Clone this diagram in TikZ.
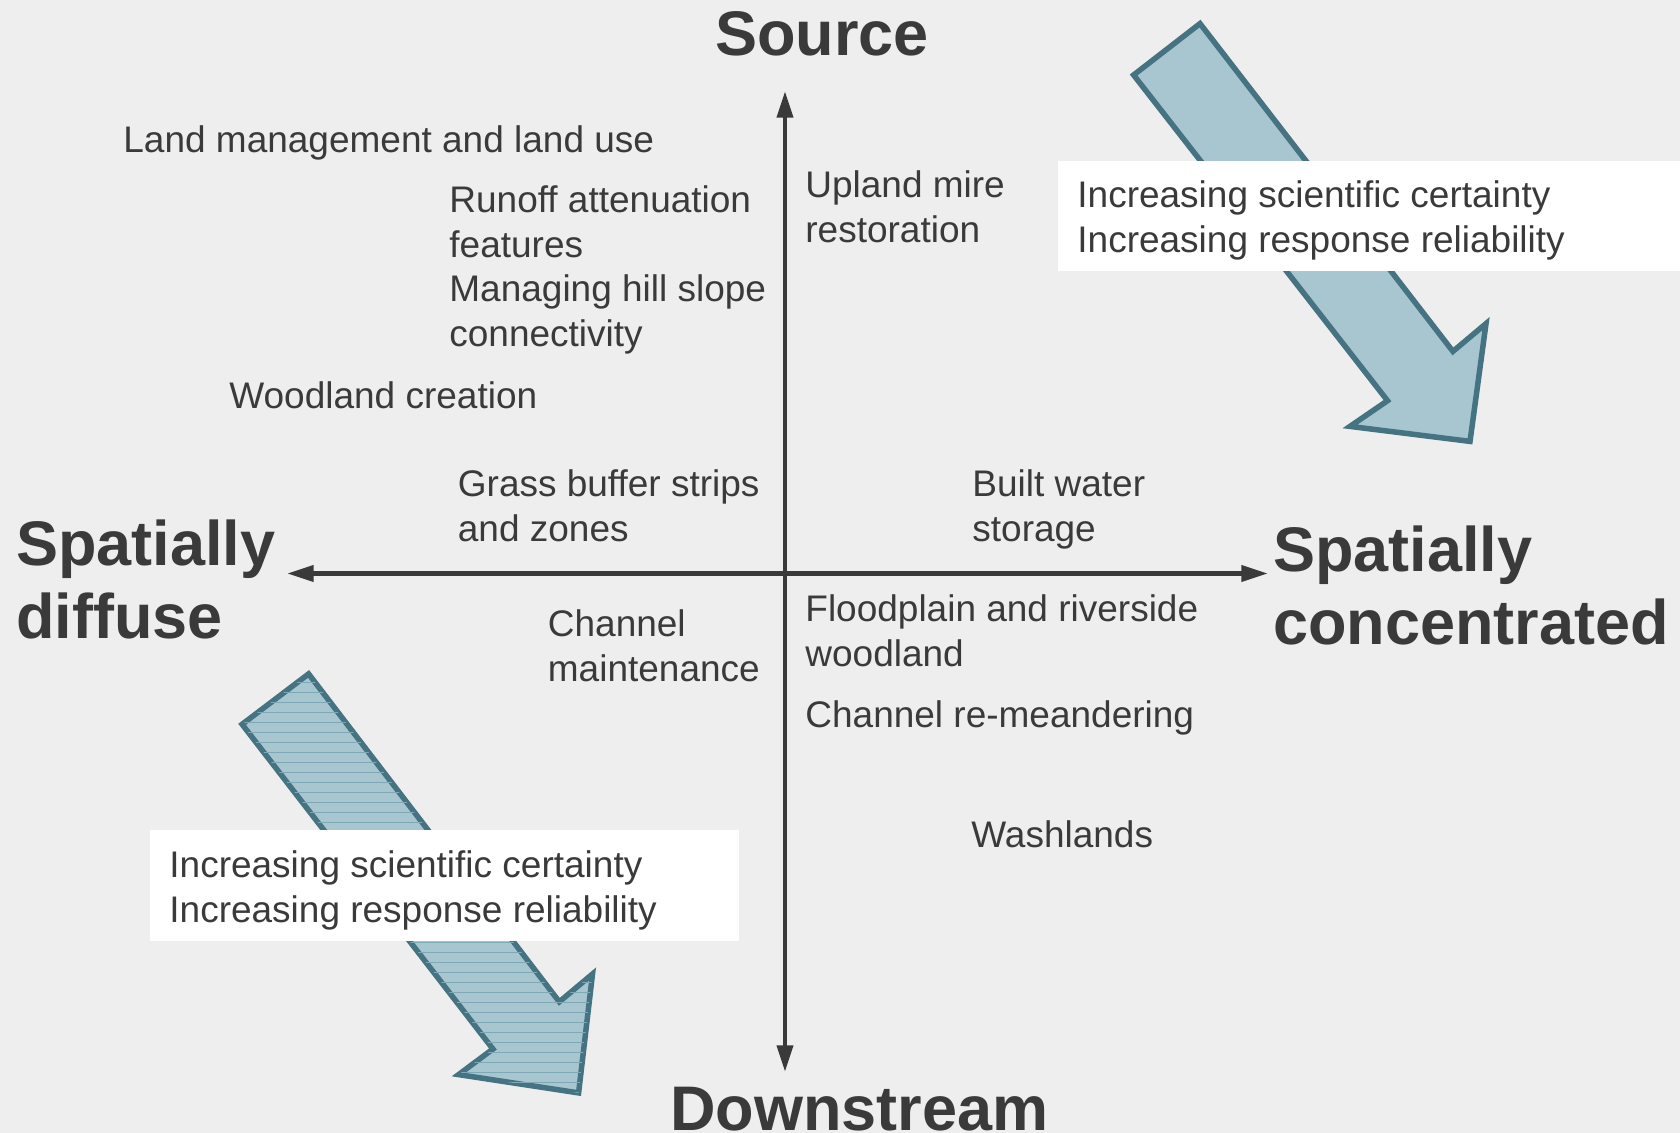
\documentclass[tikz,border=0pt]{standalone}
\usepackage{fontspec}
\setmainfont{Liberation Sans}
\usetikzlibrary{positioning, arrows.meta, patterns.meta}
\definecolor{bggray}{HTML}{EEEEEE}
\definecolor{txtgray}{HTML}{3A3A3A}
\definecolor{arrowfill}{HTML}{A8C6D0}
\definecolor{arrowline}{HTML}{467381}
\definecolor{hatchline}{HTML}{7FA8B6}

\begin{document}
\begin{tikzpicture}[x=0.5pt,y=-0.5pt,>={Triangle[length=13.3pt,width=7.8pt]},
                axis line/.style={<->,draw=txtgray,line width=2.35pt},
                item/.style={anchor=base west,inner sep=0pt,align=left,text=txtgray,
                             font=\fontsize{18.5}{22.5}\selectfont},
                pole/.style={anchor=base west,inner sep=0pt,align=left,text=txtgray,
                             font=\fontsize{31.5}{36.2}\selectfont\bfseries},
                big arrow/.style={draw=arrowline,fill=arrowfill,line width=2.75pt,line join=miter},
                note box/.style={fill=white,draw=none}]

  % background and frame
  \fill[bggray] (0,0) rectangle (1680,1133);
  \useasboundingbox (0,0) rectangle (1680,1133);

  % trend arrows
  \draw[big arrow] (1133.6,75) -- (1200,23.6) -- (1452.9,351.4) -- (1486,323.6)
        -- (1470,441.4) -- (1350,426.4) -- (1387.5,400.7) -- cycle;
  \draw[big arrow,postaction={pattern={Lines[angle=0,distance=5pt,line width=0.5pt]},
        pattern color=hatchline}]
        (242.1,724.3) -- (308.6,673.9) -- (559.3,1001.8) -- (592.5,974)
        -- (578.6,1092.9) -- (458.6,1074.6) -- (492.9,1049) -- cycle;

  % white note boxes (node base = last line)
  \fill[note box] (1057.5,160.7) rectangle (1680,271);
  \fill[note box] (150,830.4) rectangle (739.3,940.7);
  \node[item] (note1) at (1077,253) {Increasing scientific certainty\\Increasing response reliability};
  \node[item] (note2) at (169,922.6) {Increasing scientific certainty\\Increasing response reliability};

  % axes
  \coordinate (top) at (785,91);
  \coordinate (bottom) at (785,1072);
  \coordinate (left) at (287,573.5);
  \coordinate (right) at (1268,573.5);
  \draw[axis line] (bottom) -- (top);
  \draw[axis line] (left) -- (right);

  % poles
  \node[pole,anchor=base] (source) at (822,56) {Source};
  \node[pole] (down) at (670,1130) {Downstream};
  \node[pole] (diffuse) at (16,638) {Spatially\\diffuse};
  \node[pole] (conc) at (1273,644) {Spatially\\concentrated};

  % measures
  \node[item] (land) at (123,153) {Land management and land use};
  \node[item] (runoff) at (449,258) {Runoff attenuation\\features};
  \node[item] (hill) at (449,347) {Managing hill slope\\connectivity};
  \node[item] (wood) at (229,409) {Woodland creation};
  \node[item] (grass) at (457.5,541) {Grass buffer strips\\and zones};
  \node[item] (mire) at (805,243) {Upland mire\\restoration};
  \node[item] (storage) at (972,541) {Built water\\storage};
  \node[item] (flood) at (805,666) {Floodplain and riverside\\woodland};
  \node[item] (meander) at (805,727.5) {Channel re-meandering};
  \node[item] (maint) at (547.5,681) {Channel\\maintenance};
  \node[item] (wash) at (971,847) {Washlands};
\end{tikzpicture}
\end{document}
